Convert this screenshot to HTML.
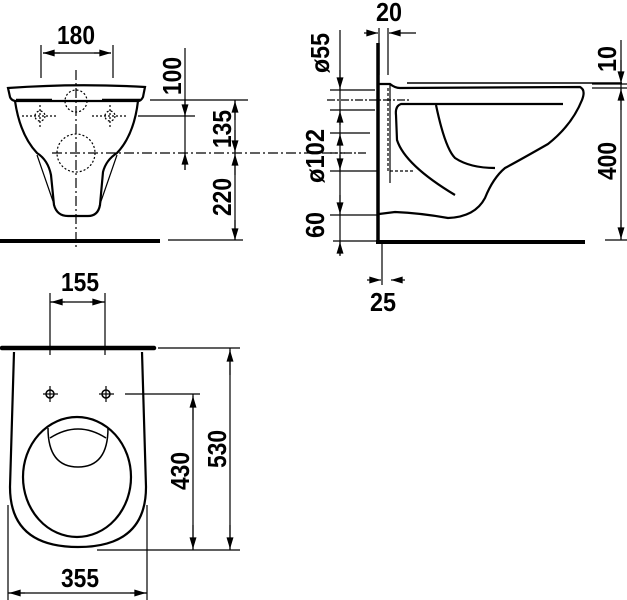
<!DOCTYPE html>
<html><head><style>
html,body{margin:0;padding:0;background:#fff;}
svg{display:block;}
text{font-family:"Liberation Sans",sans-serif;font-weight:bold;font-size:26px;fill:#000;}
</style></head><body>
<svg width="627" height="600" viewBox="0 0 627 600" xmlns="http://www.w3.org/2000/svg">
<defs>
<marker id="a" viewBox="0 0 10 6" refX="10" refY="3" markerWidth="13" markerHeight="7" markerUnits="userSpaceOnUse" orient="auto"><path d="M0,0 L10,3 L0,6 Z"/></marker>
</defs>
<g fill="none" stroke="#000" stroke-width="1.2">
<!-- FRONT VIEW -->
<line x1="41" y1="45" x2="41" y2="78"/><line x1="113" y1="45" x2="113" y2="78"/>
<line x1="60" y1="53" x2="43" y2="53" marker-end="url(#a)"/><line x1="94" y1="53" x2="111" y2="53" marker-end="url(#a)"/>
<line x1="43" y1="53" x2="111" y2="53"/>
<line x1="76" y1="70" x2="76" y2="250" stroke-dasharray="10,3,2,3"/>
<path d="M8,88 Q76,83 145,87 L143,97 Q141,101 138,101 L15,101 Q11,100 10,97 Z" stroke-width="2.2"/>
<path d="M15,101 Q20,135 37,153 Q48,160 51,175 L54,205 Q57,216 68,216 L88,216 Q98,216 100,205 L103,172 Q106,160 117,153 Q134,135 138,101" stroke-width="2.2"/>
<line x1="37" y1="155" x2="55" y2="207"/><line x1="117" y1="155" x2="99" y2="207"/>
<line x1="16" y1="100" x2="52" y2="100" stroke-width="2.5"/><line x1="102" y1="100" x2="140" y2="100" stroke-width="2.5"/>
<g stroke-dasharray="2,2">
<circle cx="76" cy="101" r="11"/><circle cx="76" cy="153" r="19"/>
<circle cx="40" cy="116" r="5"/><circle cx="110" cy="116" r="5"/>
<line x1="22" y1="116" x2="58" y2="116"/><line x1="40" y1="105" x2="40" y2="128"/>
<line x1="92" y1="116" x2="128" y2="116"/><line x1="110" y1="105" x2="110" y2="128"/>
</g>
<line x1="52" y1="153" x2="345" y2="153" stroke-dasharray="10,3,2,3"/>
<line x1="150" y1="100" x2="248" y2="100"/><line x1="138" y1="116" x2="195" y2="116"/>
<line x1="185" y1="48" x2="185" y2="170"/>
<line x1="185" y1="100" x2="185" y2="116" marker-end="url(#a)"/>
<line x1="185" y1="170" x2="185" y2="153" marker-end="url(#a)"/>
<line x1="235" y1="100" x2="235" y2="240"/>
<line x1="235" y1="120" x2="235" y2="101" marker-end="url(#a)"/>
<line x1="235" y1="130" x2="235" y2="152" marker-end="url(#a)"/>
<line x1="235" y1="175" x2="235" y2="154" marker-end="url(#a)"/>
<line x1="235" y1="220" x2="235" y2="240" marker-end="url(#a)"/>
<line x1="0" y1="241" x2="160" y2="241" stroke-width="4"/>
<line x1="168" y1="240" x2="243" y2="240"/>
<!-- SIDE VIEW -->
<line x1="379" y1="28" x2="379" y2="75"/><line x1="388" y1="28" x2="388" y2="75"/>
<line x1="364" y1="33" x2="378" y2="33" marker-end="url(#a)"/>
<line x1="416" y1="33" x2="389" y2="33" marker-end="url(#a)"/>
<line x1="378" y1="43" x2="378" y2="243" stroke-width="3.5"/>
<line x1="376" y1="242" x2="585" y2="242" stroke-width="4"/>
<line x1="407" y1="83" x2="622" y2="83" stroke-width="1.5"/>
<path d="M379,84 L390,84 Q395,88 400,88 L580,87 Q586,90 582,100 Q572,125 548,144 Q520,160 505,168 Q493,178 485,198 Q475,217 448,218 Q420,213 395,212 L379,214" stroke-width="2.2"/>
<path d="M563,104 L401,104 Q395,106 396,115 L397,140 Q405,165 455,195" stroke-width="2.2"/>
<path d="M436,105 Q445,148 455,158 Q470,168 495,168" stroke-width="2.2"/>
<path d="M388,88 L388,171 L415,171" stroke-dasharray="3,2"/>
<line x1="390" y1="85" x2="390" y2="183"/>
<line x1="340" y1="30" x2="340" y2="255"/>
<line x1="330" y1="90" x2="375" y2="90"/><line x1="327" y1="100" x2="410" y2="100" stroke-dasharray="8,2,2,2"/>
<line x1="330" y1="110" x2="375" y2="110"/><line x1="330" y1="133" x2="370" y2="133"/>
<line x1="330" y1="153" x2="368" y2="153" stroke-dasharray="8,2,2,2"/>
<line x1="330" y1="171" x2="378" y2="171"/><line x1="330" y1="215" x2="378" y2="215"/>
<line x1="333" y1="241" x2="378" y2="241"/>
<line x1="340" y1="70" x2="340" y2="89" marker-end="url(#a)"/>
<line x1="340" y1="125" x2="340" y2="111" marker-end="url(#a)"/>
<line x1="340" y1="145" x2="340" y2="134" marker-end="url(#a)"/>
<line x1="340" y1="155" x2="340" y2="170" marker-end="url(#a)"/>
<line x1="340" y1="195" x2="340" y2="214" marker-end="url(#a)"/>
<line x1="340" y1="256" x2="340" y2="242" marker-end="url(#a)"/>
<line x1="592" y1="84" x2="627" y2="84"/><line x1="592" y1="88" x2="627" y2="88"/>
<line x1="605" y1="240" x2="627" y2="240"/>
<line x1="621" y1="40" x2="621" y2="240"/>
<line x1="621" y1="60" x2="621" y2="83" marker-end="url(#a)"/>
<line x1="621" y1="110" x2="621" y2="89" marker-end="url(#a)"/>
<line x1="621" y1="220" x2="621" y2="239" marker-end="url(#a)"/>
<line x1="382" y1="244" x2="382" y2="285"/>
<line x1="367" y1="280" x2="381" y2="280" marker-end="url(#a)"/>
<line x1="405" y1="280" x2="391" y2="280" marker-end="url(#a)"/>
<!-- TOP VIEW -->
<line x1="50" y1="293" x2="50" y2="355"/><line x1="105" y1="293" x2="105" y2="355"/>
<line x1="50" y1="302" x2="105" y2="302"/>
<line x1="65" y1="302" x2="51" y2="302" marker-end="url(#a)"/>
<line x1="90" y1="302" x2="104" y2="302" marker-end="url(#a)"/>
<line x1="2" y1="348" x2="154" y2="348" stroke-width="4.5" stroke-linecap="round"/>
<path d="M14,352 L10,487 Q10,547 78,547 Q146,547 146,487 L142,352" stroke-width="2.2"/>
<ellipse cx="77" cy="477" rx="54" ry="60" stroke-width="2.2"/>
<path d="M48,428 Q48,467 78,467 Q108,467 108,428" stroke-width="1.5"/>
<path d="M50,438 Q78,420 106,438" stroke-width="1.5"/>
<circle cx="50" cy="394" r="4" stroke-width="1.5"/><circle cx="106" cy="394" r="4" stroke-width="1.5"/>
<line x1="43" y1="394" x2="58" y2="394"/><line x1="50" y1="386" x2="50" y2="402"/>
<line x1="99" y1="394" x2="114" y2="394"/><line x1="106" y1="386" x2="106" y2="402"/>
<line x1="125" y1="394" x2="200" y2="394"/>
<line x1="97" y1="550" x2="240" y2="550"/>
<line x1="158" y1="348" x2="240" y2="348"/>
<line x1="193" y1="394" x2="193" y2="550"/>
<line x1="193" y1="420" x2="193" y2="396" marker-end="url(#a)"/>
<line x1="193" y1="525" x2="193" y2="549" marker-end="url(#a)"/>
<line x1="230" y1="348" x2="230" y2="550"/>
<line x1="230" y1="375" x2="230" y2="350" marker-end="url(#a)"/>
<line x1="230" y1="525" x2="230" y2="549" marker-end="url(#a)"/>
<line x1="8" y1="505" x2="8" y2="600"/><line x1="147" y1="505" x2="147" y2="600"/>
<line x1="8" y1="593" x2="147" y2="593"/>
<line x1="25" y1="593" x2="9" y2="593" marker-end="url(#a)"/>
<line x1="130" y1="593" x2="146" y2="593" marker-end="url(#a)"/>
</g>
<g>
<text x="57" y="44" textLength="38" lengthAdjust="spacingAndGlyphs">180</text>
<text transform="translate(181,95) rotate(-90)" textLength="38" lengthAdjust="spacingAndGlyphs">100</text>
<text transform="translate(231,148) rotate(-90)" textLength="38" lengthAdjust="spacingAndGlyphs">135</text>
<text transform="translate(231,216) rotate(-90)" textLength="38" lengthAdjust="spacingAndGlyphs">220</text>
<text x="376" y="21" textLength="26" lengthAdjust="spacingAndGlyphs">20</text>
<text transform="translate(329,73) rotate(-90)" textLength="40" lengthAdjust="spacingAndGlyphs">ø55</text>
<text transform="translate(324,183) rotate(-90)" textLength="54" lengthAdjust="spacingAndGlyphs">ø102</text>
<text transform="translate(324,238) rotate(-90)" textLength="26" lengthAdjust="spacingAndGlyphs">60</text>
<text transform="translate(616,72) rotate(-90)" textLength="26" lengthAdjust="spacingAndGlyphs">10</text>
<text transform="translate(616,180) rotate(-90)" textLength="38" lengthAdjust="spacingAndGlyphs">400</text>
<text x="370" y="311" textLength="26" lengthAdjust="spacingAndGlyphs">25</text>
<text x="61" y="291" textLength="38" lengthAdjust="spacingAndGlyphs">155</text>
<text transform="translate(189,490) rotate(-90)" textLength="38" lengthAdjust="spacingAndGlyphs">430</text>
<text transform="translate(226,468) rotate(-90)" textLength="38" lengthAdjust="spacingAndGlyphs">530</text>
<text x="61" y="587" textLength="38" lengthAdjust="spacingAndGlyphs">355</text>
</g>
</svg>
</body></html>
